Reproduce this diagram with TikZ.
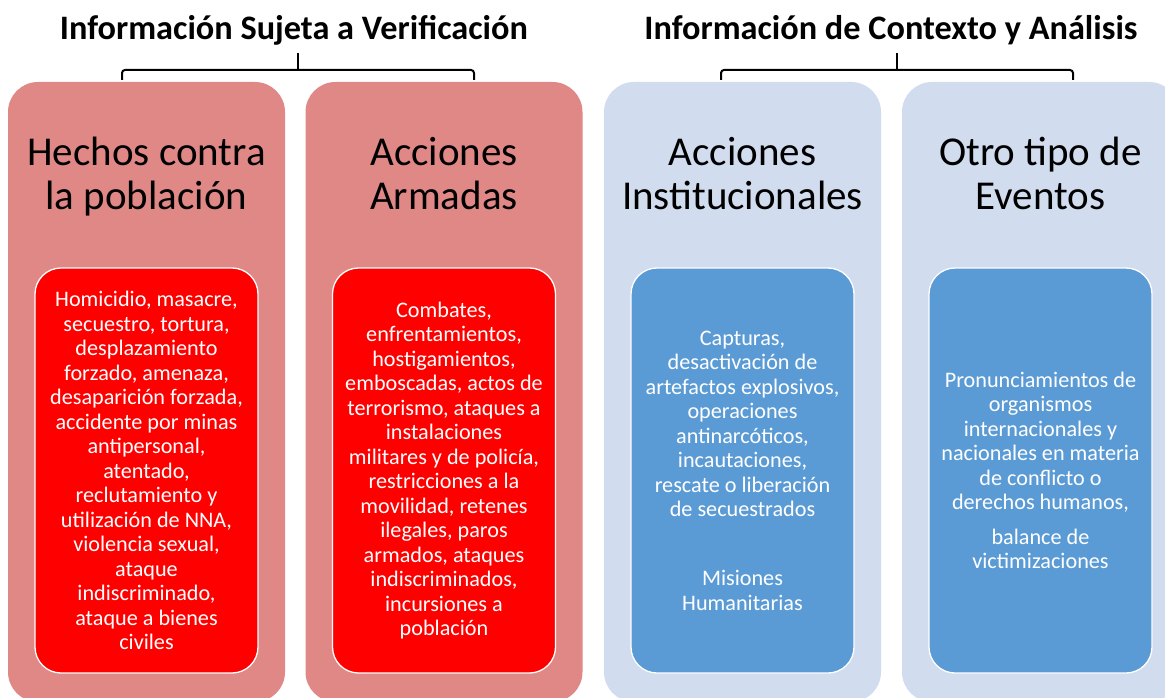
\documentclass[tikz,border=0pt]{standalone}
\usepackage{fontspec}
\setmainfont{Carlito}
\definecolor{outred}{HTML}{E08886}
\definecolor{outblue}{HTML}{D1DCEE}
\definecolor{inred}{HTML}{FF0000}
\definecolor{inblue}{HTML}{5B9BD5}
\tikzset{
  outerbox/.style={rectangle, rounded corners=30pt, minimum width=277pt, minimum height=620pt, inner sep=0pt, draw=none},
  innerbox/.style={rectangle, rounded corners=26pt, minimum width=223pt, minimum height=405pt, inner sep=0pt, draw=white, line width=1.3pt},
  heading/.style={align=center, font=\fontsize{41}{44}\selectfont, text=black, inner sep=0pt},
  body/.style={align=center, font=\fontsize{22.2}{24.5}\selectfont, text=white, inner sep=0pt},
  title/.style={font=\bfseries\fontsize{34.3}{38}\selectfont, text=black, inner sep=0pt, anchor=base},
  bracket/.style={draw=black, line width=2pt, rounded corners=3pt}
}
\begin{document}
\begin{tikzpicture}[x=1pt,y=-1pt]
\useasboundingbox (0,0) rectangle (1165,698);
\clip (0,0) rectangle (1165,698);
\fill[white] (0,0) rectangle (1165,698);

% outer boxes
\node[outerbox, fill=outred]  (o1) at (146.5,392) {};
\node[outerbox, fill=outred]  (o2) at (444,392) {};
\node[outerbox, fill=outblue] (o3) at (742.5,392) {};
\node[outerbox, fill=outblue] (o4) at (1040.5,392) {};

% titles
\node[title] (t1) at (294,39.5) {Información Sujeta a Verificación};
\node[title] (t2) at (891,39.5) {Información de Contexto y Análisis};

% brackets
\coordinate (b1l) at (122,80);
\coordinate (b1r) at (474,80);
\coordinate (b1m) at (298,53);
\draw[bracket] (b1l) -- (122,70) -- (474,70) -- (b1r);
\draw[line width=2pt] (298,70) -- (b1m);
\coordinate (b2l) at (721,80);
\coordinate (b2r) at (1073,80);
\coordinate (b2m) at (897,53);
\draw[bracket] (b2l) -- (721,70) -- (1073,70) -- (b2r);
\draw[line width=2pt] (897,70) -- (b2m);

% headings
\node[heading] (h1) at (146.5,179) {\strut Hechos contra\\la población\strut};
\node[heading] (h2) at (444,179) {\strut Acciones\\Armadas\strut};
\node[heading] (h3) at (742.5,179) {\strut Acciones\\Institucionales\strut};
\node[heading] (h4) at (1040.5,179) {\strut Otro tipo de\\Eventos\strut};

% inner boxes
\node[innerbox, fill=inred]  (i1) at (146.5,470.5) {};
\node[innerbox, fill=inred]  (i2) at (444,470.5) {};
\node[innerbox, fill=inblue] (i3) at (742.5,470.5) {};
\node[innerbox, fill=inblue] (i4) at (1040.5,470.5) {};

% body texts
\node[body] (x1) at (i1.center) {Homicidio, masacre,\\secuestro, tortura,\\desplazamiento\\forzado, amenaza,\\desaparición forzada,\\accidente por minas\\antipersonal,\\atentado,\\reclutamiento y\\utilización de NNA,\\violencia sexual,\\ataque\\indiscriminado,\\ataque a bienes\\civiles};
\node[body] (x2) at (i2.center) {Combates,\\enfrentamientos,\\hostigamientos,\\emboscadas, actos de\\terrorismo, ataques a\\instalaciones\\militares y de policía,\\restricciones a la\\movilidad, retenes\\ilegales, paros\\armados, ataques\\indiscriminados,\\incursiones a\\población};
\node[body] (x3) at (i3.center) {Capturas,\\desactivación de\\artefactos explosivos,\\operaciones\\antinarcóticos,\\incautaciones,\\rescate o liberación\\de secuestrados\\[44.5pt]Misiones\\Humanitarias};
\node[body] (x4) at (i4.center) {Pronunciamientos de\\organismos\\internacionales y\\nacionales en materia\\de conflicto o\\derechos humanos,\\[10pt]balance de\\victimizaciones};
\end{tikzpicture}
\end{document}
